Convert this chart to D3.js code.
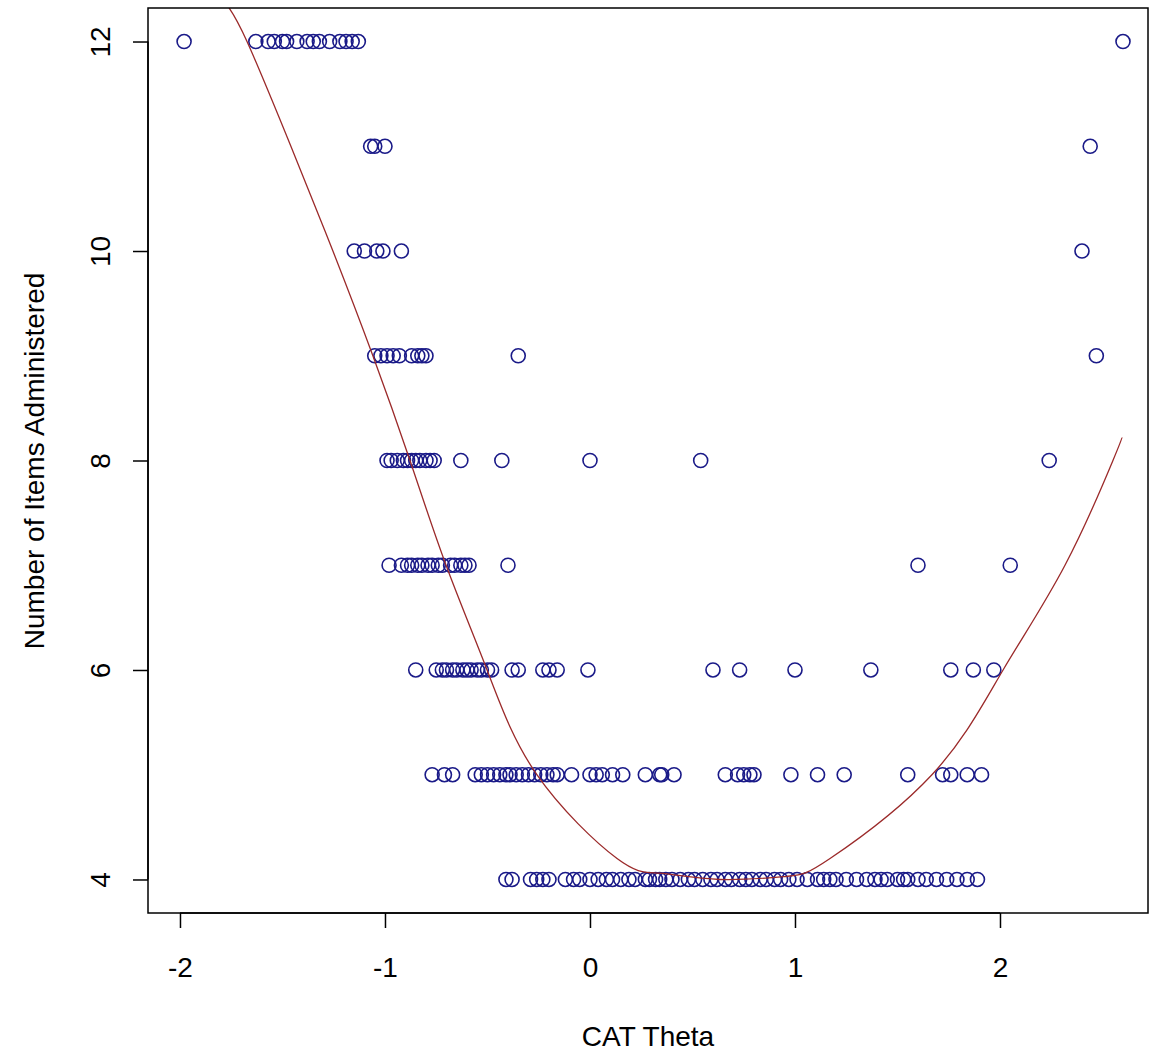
<!DOCTYPE html>
<html>
<head>
<meta charset="utf-8">
<script src="https://cdn.jsdelivr.net/npm/d3@7"></script>
<style>
  body { margin: 0; background: #fff; }
  svg { display: block; font-family: "Liberation Sans", Arial, sans-serif; }
</style>
</head>
<body>
<div id="chart"></div>
<script>
// theta estimates, grouped by number of items administered
const theta4 = [-0.41, -0.38, -0.29, -0.26, -0.23, -0.20, -0.12, -0.08, -0.05, 0.0, 0.04, 0.08, 0.11, 0.15,
  0.19, 0.22, 0.27, 0.29, 0.32, 0.34, 0.37, 0.40, 0.44, 0.48, 0.51, 0.55, 0.59, 0.62, 0.66, 0.69, 0.73,
  0.76, 0.79, 0.83, 0.86, 0.90, 0.93, 0.97, 1.01, 1.06, 1.11, 1.14, 1.17, 1.20, 1.25, 1.30, 1.35, 1.39,
  1.42, 1.45, 1.50, 1.53, 1.55, 1.60, 1.64, 1.69, 1.74, 1.79, 1.84, 1.89];
const theta5 = [-0.77, -0.71, -0.67, -0.56, -0.53, -0.50, -0.47, -0.44, -0.41, -0.39, -0.36, -0.33, -0.30,
  -0.27, -0.24, -0.21, -0.18, -0.16, -0.09, 0.0, 0.03, 0.06, 0.11, 0.16, 0.27, 0.34, 0.35, 0.41, 0.66,
  0.72, 0.75, 0.78, 0.80, 0.98, 1.11, 1.24, 1.55, 1.72, 1.76, 1.84, 1.91];
const theta6 = [-0.85, -0.75, -0.72, -0.70, -0.67, -0.65, -0.62, -0.60, -0.58, -0.55, -0.53, -0.50, -0.48,
  -0.38, -0.35, -0.23, -0.20, -0.16, -0.01, 0.60, 0.73, 1.00, 1.37, 1.76, 1.87, 1.97];
const theta7 = [-0.98, -0.92, -0.89, -0.87, -0.84, -0.82, -0.79, -0.77, -0.74, -0.72, -0.68, -0.66, -0.63,
  -0.61, -0.59, -0.40, 1.60, 2.05];
const theta8 = [-0.99, -0.97, -0.94, -0.91, -0.89, -0.87, -0.85, -0.83, -0.80, -0.78, -0.76, -0.63, -0.43,
  0.0, 0.54, 2.24];
const theta9 = [-1.05, -1.02, -0.99, -0.96, -0.93, -0.87, -0.84, -0.82, -0.80, -0.35, 2.47];
const theta10 = [-1.15, -1.10, -1.04, -1.01, -0.92, 2.40];
const theta11 = [-1.07, -1.05, -1.00, 2.44];
const theta12 = [-1.98, -1.63, -1.57, -1.54, -1.50, -1.48, -1.43, -1.38, -1.35, -1.32, -1.27, -1.22, -1.19,
  -1.16, -1.13, 2.60];

// fitted curve
const fitTheta = [-1.771, -1.673, -1.459, -1.254, -1.059, -0.878, -0.702, -0.502, -0.259, 0.132, 0.341,
  0.634, 0.961, 1.171, 1.668, 2.015, 2.317, 2.551, 2.595];
const fitItems = [12.35, 12.0, 11.0, 10.0, 9.0, 8.0, 7.0, 6.0, 5.0, 4.2, 4.06, 4.0, 4.03, 4.2, 5.0, 6.0,
  7.0, 8.0, 8.22];

const xTicks = [-2, -1, 0, 1, 2];
const yTicks = [4, 6, 8, 10, 12];

const groups = [
  [4, theta4], [5, theta5], [6, theta6], [7, theta7], [8, theta8],
  [9, theta9], [10, theta10], [11, theta11], [12, theta12]
];
const points = [];
groups.forEach(([n, arr]) => arr.forEach((t) => points.push({ theta: t, items: n })));

const W = 1160, H = 1055;
const margin = { top: 8, right: 12, bottom: 142, left: 148 };
const width = W - margin.left - margin.right;
const height = H - margin.top - margin.bottom;
const fontSize = 28;

const svg = d3.select("#chart").append("svg")
  .attr("width", W)
  .attr("height", H);

const g = svg.append("g")
  .attr("transform", "translate(" + margin.left + "," + margin.top + ")");

const x = d3.scaleLinear().domain([-2.156, 2.722]).range([0, width]);
const y = d3.scaleLinear().domain([3.68, 12.32]).range([height, 0]);

g.append("clipPath").attr("id", "plotclip")
  .append("rect").attr("width", width).attr("height", height);

// points
g.append("g").selectAll("circle")
  .data(points)
  .enter().append("circle")
  .attr("cx", (d) => x(d.theta))
  .attr("cy", (d) => y(d.items))
  .attr("r", 7)
  .attr("fill", "none")
  .attr("stroke", "#1a1a88")
  .attr("stroke-width", 1.6);

// fit line
const line = d3.line()
  .curve(d3.curveNatural)
  .x((d, i) => x(fitTheta[i]))
  .y((d) => y(d));

g.append("path")
  .attr("clip-path", "url(#plotclip)")
  .attr("d", line(fitItems))
  .attr("fill", "none")
  .attr("stroke", "#9b2a2a")
  .attr("stroke-width", 1.3);

// box
g.append("rect")
  .attr("width", width)
  .attr("height", height)
  .attr("fill", "none")
  .attr("stroke", "#000")
  .attr("stroke-width", 1.5);

const fmt = (d) => String(d);

// x axis
const xAxis = g.append("g")
  .attr("transform", "translate(0," + height + ")")
  .call(d3.axisBottom(x).tickValues(xTicks).tickFormat(fmt).tickSize(15).tickPadding(29).tickSizeOuter(0));
xAxis.select(".domain").remove();
xAxis.append("line")
  .attr("x1", x(xTicks[0])).attr("x2", x(xTicks[xTicks.length - 1]))
  .attr("stroke", "#000").attr("stroke-width", 1.5);
xAxis.selectAll(".tick line").attr("stroke-width", 1.5);
xAxis.selectAll(".tick text")
  .attr("font-size", fontSize)
  .attr("fill", "#000")
  .attr("font-family", "Liberation Sans, Arial, sans-serif");

// y axis
const yAxis = g.append("g")
  .call(d3.axisLeft(y).tickValues(yTicks).tickFormat(fmt).tickSize(15).tickSizeOuter(0));
yAxis.select(".domain").remove();
yAxis.append("line")
  .attr("y1", y(yTicks[0])).attr("y2", y(yTicks[yTicks.length - 1]))
  .attr("stroke", "#000").attr("stroke-width", 1.5);
yAxis.selectAll(".tick line").attr("stroke-width", 1.5);
yAxis.selectAll(".tick text")
  .attr("x", null)
  .attr("text-anchor", "middle")
  .attr("transform", "translate(-48,0) rotate(-90)")
  .attr("dy", "0.36em")
  .attr("font-size", fontSize)
  .attr("fill", "#000")
  .attr("font-family", "Liberation Sans, Arial, sans-serif");

// axis titles
svg.append("text")
  .attr("x", 648)
  .attr("y", 1046)
  .attr("text-anchor", "middle")
  .attr("font-size", fontSize)
  .text("CAT Theta");

svg.append("text")
  .attr("transform", "translate(44," + 461 + ") rotate(-90)")
  .attr("text-anchor", "middle")
  .attr("font-size", fontSize)
  .text("Number of Items Administered");
</script>
</body>
</html>
